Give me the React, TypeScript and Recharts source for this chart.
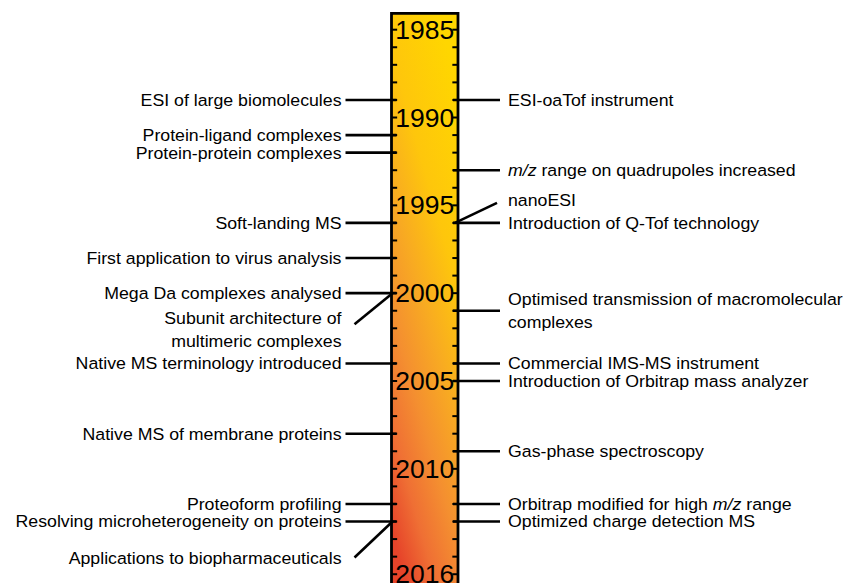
import React from 'react'
import { ScatterChart, XAxis, YAxis, Scatter, ReferenceArea, ReferenceLine } from 'recharts'

// every year gets a small tick on both edges of the bar
const tickYears = [
  1985, 1986, 1987, 1988, 1989, 1990, 1991, 1992, 1993, 1994, 1995, 1996, 1997, 1998, 1999, 2000,
  2001, 2002, 2003, 2004, 2005, 2006, 2007, 2008, 2009, 2010, 2011, 2012, 2013, 2014, 2015, 2016,
]

const yearLabels = [1985, 1990, 1995, 2000, 2005, 2010, 2016]

const leftEvents = [
  { year: 1989, label: 'ESI of large biomolecules' },
  { year: 1991, label: 'Protein-ligand complexes' },
  { year: 1992, label: 'Protein-protein complexes' },
  { year: 1996, label: 'Soft-landing MS' },
  { year: 1998, label: 'First application to virus analysis' },
  { year: 2000, label: 'Mega Da complexes analysed' },
  { year: 2000, label: 'Subunit architecture of\nmultimeric complexes' },
  { year: 2004, label: 'Native MS terminology introduced' },
  { year: 2008, label: 'Native MS of membrane proteins' },
  { year: 2012, label: 'Proteoform profiling' },
  { year: 2013, label: 'Resolving microheterogeneity on proteins' },
  { year: 2013, label: 'Applications to biopharmaceuticals' },
]

const rightEvents = [
  { year: 1989, label: 'ESI-oaTof instrument' },
  { year: 1993, label: 'm/z range on quadrupoles increased' },
  { year: 1996, label: 'nanoESI' },
  { year: 1996, label: 'Introduction of Q-Tof technology' },
  { year: 2001, label: 'Optimised transmission of macromolecular\ncomplexes' },
  { year: 2004, label: 'Commercial IMS-MS instrument' },
  { year: 2005, label: 'Introduction of Orbitrap mass analyzer' },
  { year: 2009, label: 'Gas-phase spectroscopy' },
  { year: 2012, label: 'Orbitrap modified for high m/z range' },
  { year: 2013, label: 'Optimized charge detection MS' },
]

// labels that hang off a slanted connector (pixel offsets, styling only)
const bends: Record<string, { dx: number; dy: number; textDy: number }> = {
  'Subunit architecture of\nmultimeric complexes': { dx: -37, dy: 31, textDy: 25 },
  'Applications to biopharmaceuticals': { dx: -37, dy: 36, textDy: 37 },
  nanoESI: { dx: 39, dy: -20, textDy: -23 },
}

const W = 848
const H = 583
const FONT = '"Liberation Sans", Arial, Helvetica, sans-serif'
const STRETCH = 1.075
const LINE_H = 22.5
const TICK = 0.17

const leftData = leftEvents.map((e) => ({ ...e, side: -1 }))
const rightData = rightEvents.map((e) => ({ ...e, side: 1 }))
const yearData = yearLabels.map((y) => ({ year: y, side: 0 }))

const withItalic = (t: string) => {
  const parts = t.split('m/z')
  const out: React.ReactNode[] = []
  parts.forEach((p, i) => {
    if (i > 0) out.push(<tspan key={'i' + i} fontStyle="italic">m/z</tspan>)
    out.push(p)
  })
  return out
}

const EventMark = (props: any) => {
  const { cx, cy, payload } = props
  const left = payload.side < 0
  const bend = bends[payload.label]
  const lines: string[] = payload.label.split('\n')
  let x1, y1, x2, y2, tx, ty
  if (left) {
    tx = cx - 50
    if (bend) {
      x1 = cx + 1; y1 = cy; x2 = cx + bend.dx; y2 = cy + bend.dy
      ty = cy + bend.textDy
    } else {
      x1 = cx - 46; y1 = cy; x2 = cx + 5; y2 = cy
      ty = cy - ((lines.length - 1) * LINE_H) / 2
    }
  } else {
    tx = cx + 50
    if (bend) {
      x1 = cx - 3; y1 = cy; x2 = cx + bend.dx; y2 = cy + bend.dy
      ty = cy + bend.textDy
    } else {
      x1 = cx - 5; y1 = cy; x2 = cx + 42; y2 = cy
      ty = cy - ((lines.length - 1) * LINE_H) / 2
    }
  }
  return (
    <g>
      <line x1={x1} y1={y1} x2={x2} y2={y2} stroke="#000" strokeWidth={2.6} />
      <g transform={`translate(${tx},${ty}) scale(${STRETCH},1)`}>
        <text x={0} y={0} textAnchor={left ? 'end' : 'start'} fontSize={16.5} fontFamily={FONT} fill="#000">
          {lines.map((t, i) => (
            <tspan key={i} x={0} dy={i === 0 ? '0.36em' : LINE_H}>
              {withItalic(t)}
            </tspan>
          ))}
        </text>
      </g>
    </g>
  )
}

const YearMark = (props: any) => {
  const { cx, cy, payload } = props
  return (
    <g transform={`translate(${cx},${cy}) scale(1.06,1)`}>
      <text x={0} y={0} dy="0.36em" textAnchor="middle" fontSize={25} fontFamily={FONT} fill="#000">
        {payload.year}
      </text>
    </g>
  )
}

const BarShape = (props: any) => {
  const { x, y, width, height } = props
  return (
    <g>
      <defs>
        <linearGradient id="timeGrad" x1="0.7" y1="0" x2="0.3" y2="1">
          <stop offset="0" stopColor="#FFD600" />
          <stop offset="0.3" stopColor="#FEC60C" />
          <stop offset="0.5" stopColor="#F8AA22" />
          <stop offset="0.68" stopColor="#F48F30" />
          <stop offset="0.85" stopColor="#EF6F34" />
          <stop offset="1" stopColor="#E6442A" />
        </linearGradient>
      </defs>
      <rect x={x} y={y} width={width} height={height} fill="url(#timeGrad)" />
      <path
        d={`M${x},${y + height} V${y} H${x + width} V${y + height}`}
        fill="none"
        stroke="#000"
        strokeWidth={2.8}
      />
    </g>
  )
}

export default function App() {
  return (
    <div style={{ position: 'absolute', left: 0, top: 0, width: W, height: H, overflow: 'hidden', background: '#fff' }}>
      <ScatterChart width={W} height={H} margin={{ top: 0, right: 0, bottom: 0, left: 0 }}>
        <XAxis type="number" dataKey="side" domain={[-12.774, 12.729]} allowDataOverflow hide />
        <YAxis type="number" dataKey="year" domain={[1983.31, 2016.5]} reversed allowDataOverflow hide />
        <ReferenceArea x1={-1} x2={1} y1={1984.07} y2={2017.5} ifOverflow="visible" shape={BarShape} />
        {tickYears.map((yr) => (
          <ReferenceLine
            key={'l' + yr}
            segment={[{ x: -1, y: yr }, { x: -1 + TICK, y: yr }]}
            stroke="#000"
            strokeWidth={2}
          />
        ))}
        {tickYears.map((yr) => (
          <ReferenceLine
            key={'r' + yr}
            segment={[{ x: 1 - TICK, y: yr }, { x: 1, y: yr }]}
            stroke="#000"
            strokeWidth={2}
          />
        ))}
        <Scatter data={yearData} shape={YearMark} isAnimationActive={false} />
        <Scatter data={leftData} shape={EventMark} isAnimationActive={false} />
        <Scatter data={rightData} shape={EventMark} isAnimationActive={false} />
      </ScatterChart>
    </div>
  )
}
